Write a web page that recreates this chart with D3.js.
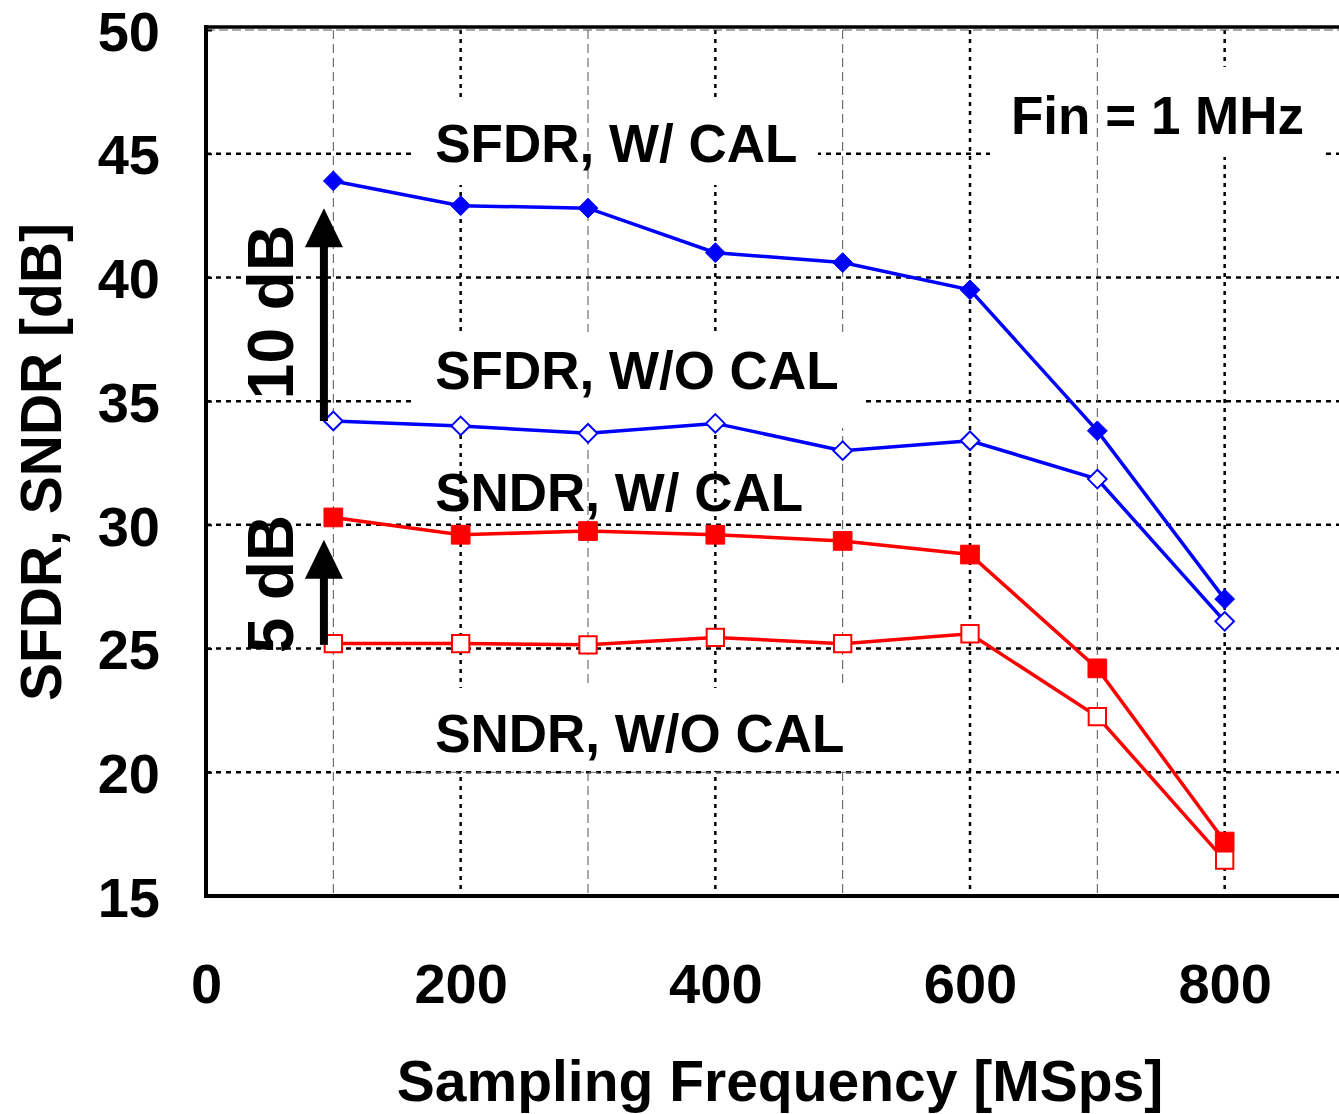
<!DOCTYPE html>
<html>
<head>
<meta charset="utf-8">
<script src="https://cdn.jsdelivr.net/npm/d3@7"></script>
<style>
  body { margin: 0; background: #fff; }
  svg { display: block; font-family: "Liberation Sans", Arial, sans-serif; font-weight: bold; }
</style>
</head>
<body>
<script>
// values
const fs = [100, 200, 300, 400, 500, 600, 700, 800];
const sfdrCal   = [43.9, 42.9, 42.8, 41.0, 40.6, 39.5, 33.8, 27.0];
const sfdrNoCal = [34.2, 34.0, 33.7, 34.1, 33.0, 33.4, 31.85, 26.1];
const sndrCal   = [30.3, 29.6, 29.75, 29.6, 29.35, 28.8, 24.2, 17.2];
const sndrNoCal = [25.2, 25.2, 25.15, 25.45, 25.2, 25.6, 22.25, 16.45];

const xTicks = [0, 200, 400, 600, 800];
const yTicks = [15, 20, 25, 30, 35, 40, 45, 50];
const majorX = [200, 400, 600, 800];
const minorX = [100, 300, 500, 700];
const majorY = [20, 25, 30, 35, 40, 45];

const width = 1339, height = 1114;
const x = d3.scaleLinear().domain([0, 900]).range([206, 1352]);
const y = d3.scaleLinear().domain([15, 50]).range([896, 30]);

const svg = d3.select('body').append('svg')
  .attr('width', width)
  .attr('height', height);

// major grid (black dotted)
const grid = svg.append('g');
grid.selectAll('.hy').data(majorY).enter().append('line')
  .attr('x1', x(0)).attr('x2', width)
  .attr('y1', d => y(d)).attr('y2', d => y(d))
  .attr('stroke', '#000').attr('stroke-width', 2.5).attr('stroke-dasharray', '5,5');
grid.selectAll('.vx').data(majorX).enter().append('line')
  .attr('x1', d => x(d)).attr('x2', d => x(d))
  .attr('y1', y(50)).attr('y2', y(15))
  .attr('stroke', '#000').attr('stroke-width', 2.5).attr('stroke-dasharray', '4,5');

// white boxes behind labels (hide the grid)
svg.append('rect').attr('x', 412).attr('y', 100).attr('width', 406).attr('height', 85).attr('fill', '#fff');
svg.append('rect').attr('x', 990).attr('y', 67).attr('width', 333).attr('height', 90).attr('fill', '#fff');

// minor grid (grey dashed)
grid.append('line')
  .attr('x1', x(0)).attr('x2', width)
  .attr('y1', y(50)).attr('y2', y(50))
  .attr('stroke', '#555').attr('stroke-width', 1).attr('stroke-dasharray', '9,4');
svg.selectAll('.mx').data(minorX).enter().append('line')
  .attr('x1', d => x(d)).attr('x2', d => x(d))
  .attr('y1', y(50)).attr('y2', y(15))
  .attr('stroke', '#555').attr('stroke-width', 1).attr('stroke-dasharray', '9,5');

svg.append('rect').attr('x', 412).attr('y', 332).attr('width', 453).attr('height', 96).attr('fill', '#fff');
svg.append('rect').attr('x', 407).attr('y', 688).attr('width', 460).attr('height', 83).attr('fill', '#fff');
svg.append('line')
  .attr('x1', 407).attr('x2', 867).attr('y1', y(20)).attr('y2', y(20))
  .attr('stroke', '#666').attr('stroke-width', 1).attr('stroke-dasharray', '9,5');

// frame
svg.append('line').attr('x1', x(0) - 2).attr('x2', width).attr('y1', 27).attr('y2', 27)
  .attr('stroke', '#000').attr('stroke-width', 3.5);
svg.append('line').attr('x1', x(0) - 2).attr('x2', width).attr('y1', y(15)).attr('y2', y(15))
  .attr('stroke', '#000').attr('stroke-width', 4);
svg.append('line').attr('x1', x(0)).attr('x2', x(0)).attr('y1', 25).attr('y2', y(15) + 2)
  .attr('stroke', '#000').attr('stroke-width', 4);

// axes
const yAxis = svg.append('g')
  .attr('transform', `translate(${x(0)},0)`)
  .call(d3.axisLeft(y).tickValues(yTicks).tickSize(-6).tickPadding(46));
yAxis.select('.domain').remove();
yAxis.selectAll('line').attr('stroke', '#000').attr('stroke-width', 2);
yAxis.selectAll('text')
  .attr('font-size', 56).attr('font-family', '"Liberation Sans", Arial, sans-serif')
  .attr('font-weight', 'bold').attr('fill', '#000').attr('dy', '0.36em');

const xAxis = svg.append('g')
  .attr('transform', `translate(0,${y(15)})`)
  .call(d3.axisBottom(x).tickValues(xTicks).tickSize(0));
xAxis.select('.domain').remove();
xAxis.selectAll('text')
  .attr('font-size', 56).attr('font-family', '"Liberation Sans", Arial, sans-serif')
  .attr('font-weight', 'bold').attr('fill', '#000')
  .attr('dy', null).attr('y', 107);

// axis titles
svg.append('text')
  .attr('x', 780).attr('y', 1101)
  .attr('text-anchor', 'middle').attr('font-size', 57)
  .text('Sampling Frequency [MSps]');
svg.append('text')
  .attr('transform', 'translate(61,462) rotate(-90)')
  .attr('text-anchor', 'middle').attr('font-size', 57)
  .text('SFDR, SNDR [dB]');

// labels
const labels = [
  { t: 'SFDR, W/ CAL', v: 44.65 },
  { t: 'SFDR, W/O CAL', v: 35.48 },
  { t: 'SNDR, W/ CAL', v: 30.55 },
  { t: 'SNDR, W/O CAL', v: 20.8 }
];
svg.selectAll('.lab').data(labels).enter().append('text')
  .attr('x', x(180)).attr('y', d => y(d.v))
  .attr('font-size', 53).text(d => d.t);
svg.append('text')
  .attr('x', 1011).attr('y', y(45.8))
  .attr('font-size', 53).text('Fin = 1 MHz');

// data lines + markers
const series = [
  { vals: sfdrCal, color: '#0000ff', shape: 'diamond', filled: true },
  { vals: sfdrNoCal, color: '#0000ff', shape: 'diamond', filled: false },
  { vals: sndrCal, color: '#ff0000', shape: 'square', filled: true },
  { vals: sndrNoCal, color: '#ff0000', shape: 'square', filled: false }
];
const line = d3.line().x(d => x(d[0])).y(d => y(d[1]));

series.forEach(s => {
  const pts = fs.map((f, i) => [f, s.vals[i]]);
  svg.append('path')
    .attr('d', line(pts))
    .attr('fill', 'none')
    .attr('stroke', s.color)
    .attr('stroke-width', 3.5);
  const sym = s.shape === 'diamond'
    ? d3.symbol().type(d3.symbolDiamond2).size(s.filled ? 250 : 220)
    : d3.symbol().type(d3.symbolSquare).size(s.filled ? 350 : 300);
  svg.selectAll(null).data(pts).enter().append('path')
    .attr('d', sym)
    .attr('transform', d => `translate(${x(d[0])},${y(d[1])})`)
    .attr('fill', s.filled ? s.color : '#fff')
    .attr('stroke', s.color)
    .attr('stroke-width', s.filled ? 1 : 2);
});

// gain arrows
const arrows = [
  { from: 34.2, to: 42.8, text: '10 dB', tx: 312 },
  { from: 25.15, to: 29.4, text: '5 dB', tx: 584 }
];
const ax = x(92.6);
arrows.forEach(a => {
  const tip = y(a.to);
  svg.append('line')
    .attr('x1', ax).attr('x2', ax)
    .attr('y1', y(a.from)).attr('y2', tip + 30)
    .attr('stroke', '#000').attr('stroke-width', 8);
  svg.append('path')
    .attr('d', `M${ax},${tip} L${ax - 19},${tip + 39} L${ax + 19},${tip + 39} Z`)
    .attr('fill', '#000');
  svg.append('text')
    .attr('transform', `translate(293,${a.tx}) rotate(-90)`)
    .attr('text-anchor', 'middle').attr('font-size', 64)
    .text(a.text);
});
</script>
</body>
</html>
